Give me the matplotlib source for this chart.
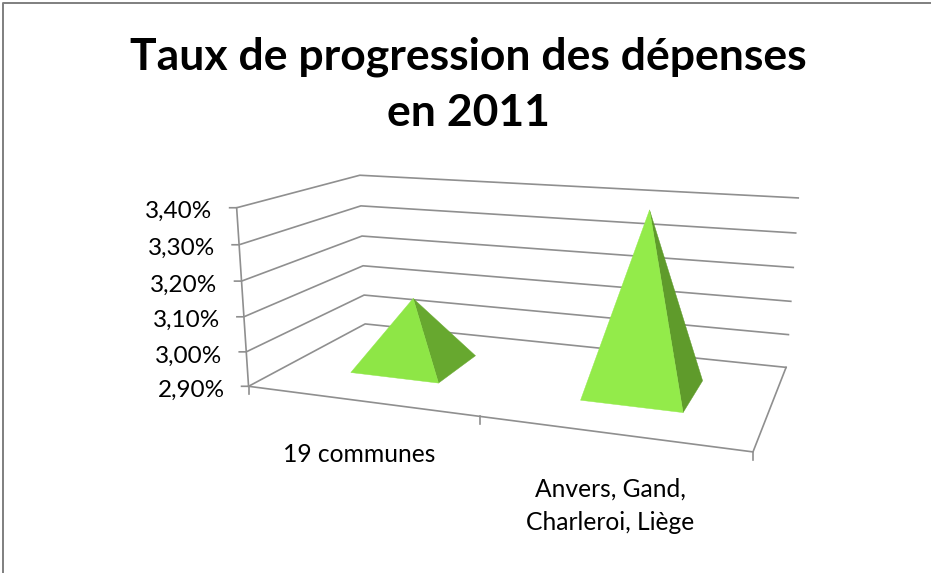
import numpy as np
import matplotlib
matplotlib.use('Agg')
import matplotlib.pyplot as plt

plt.rcParams['font.family'] = ['Lato', 'DejaVu Sans']

title = 'Taux de progression des dépenses\nen 2011'
categories = ['19 communes', 'Anvers, Gand,\nCharleroi, Liège']
values = [3.10, 3.40]
y_ticks = [2.90, 3.00, 3.10, 3.20, 3.30, 3.40]

# fake 3d camera: fit from (cat, value, depth) -> picture pixels
wall_ref = [(0, 2.9, 0, 249, 387), (0, 3.0, 0, 246, 351), (0, 3.1, 0, 244, 316.5),
            (0, 3.2, 0, 241.5, 281), (0, 3.3, 0, 239, 245), (0, 3.4, 0, 236.5, 208),
            (0, 2.9, 1, 365, 324), (0, 3.0, 1, 364, 295), (0, 3.1, 1, 363, 266),
            (0, 3.2, 1, 362, 236), (0, 3.3, 1, 361, 206), (0, 3.4, 1, 360, 175),
            (2, 2.9, 1, 786, 367), (2, 3.0, 1, 788.5, 334.7), (2, 3.1, 1, 791, 301.7),
            (2, 3.2, 1, 793, 267.5), (2, 3.3, 1, 796, 232.7), (2, 3.4, 1, 798, 198),
            (2, 2.9, 0, 753, 452)]

rows = []
for c, v, d, px, py in wall_ref:
    p = [c, (v - 2.9) * 2, d, 1]
    rows.append(p + [0, 0, 0, 0] + [-px * q for q in p])
    rows.append([0, 0, 0, 0] + p + [-py * q for q in p])
cam = np.linalg.svd(np.array(rows))[2][-1].reshape(3, 4)


def project(c, v, d):
    h = cam @ np.array([c, (v - 2.9) * 2, d, 1])
    return h[0] / h[2], h[1] / h[2]


fig = plt.figure(figsize=(9.31, 5.73), dpi=100)
ax = fig.add_axes([0, 0, 1, 1])
ax.set_xlim(0, 931)
ax.set_ylim(573, 0)
ax.axis('off')

grey = '#8f8f8f'
lw = 1.2

# picture border, top and left only
ax.plot([2.5, 2.5, 931], [573, 2.5, 2.5], color='#7f7f7f', lw=1.4)

for v in y_ticks:
    x0, y0 = project(0, v, 0)
    x1, y1 = project(0, v, 1)
    x2, y2 = project(2, v, 1)
    ax.plot([x0 - 7, x0, x1, x2], [y0, y0, y1, y2], color=grey, lw=lw)
    ax.text(x0 - 24, y0 + 4, ('%.2f%%' % v).replace('.', ','), ha='right', va='center',
            fontsize=17.5, color='black')

# axes edges
pts = [project(0, y_ticks[0], 0), project(0, y_ticks[-1], 0)]
ax.plot([p[0] for p in pts], [p[1] for p in pts], color=grey, lw=lw)
fl = [project(0, 2.9, 0), project(2, 2.9, 0), project(2, 2.9, 1)]
ax.plot([p[0] for p in fl], [p[1] for p in fl], color=grey, lw=lw)
for c in [0, 1, 2]:
    x, y = project(c, 2.9, 0)
    ax.plot([x, x], [y, y + 8], color=grey, lw=lw)

# pyramids
half_w = 0.2
half_d = 0.2
light = ['#8ee646', '#93eb4a']
dark = ['#67a82f', '#5f9b2b']
for i, v in enumerate(values):
    c = i + 0.5
    fl_ = project(c - half_w, 2.9, 0.5 - half_d)
    fr = project(c + half_w, 2.9, 0.5 - half_d)
    br = project(c + half_w, 2.9, 0.5 + half_d)
    top = project(c, v, 0.5)
    ax.fill(*zip(fr, br, top), color=dark[i], lw=0.3, zorder=3)
    ax.fill(*zip(fl_, fr, top), color=light[i], lw=0.3, zorder=3)

lab_off = [54, 72]
for i, lab in enumerate(categories):
    x, y = project(i + 0.5, 2.9, 0)
    ax.text(x, y + lab_off[i], lab, ha='center', va='center', fontsize=17.7,
            color='black', linespacing=1.55)

ax.text(468.5, 85, title, ha='center', va='center', fontsize=32, fontweight='bold',
        color='black', linespacing=1.5)

fig.savefig('out.png', dpi=100)
